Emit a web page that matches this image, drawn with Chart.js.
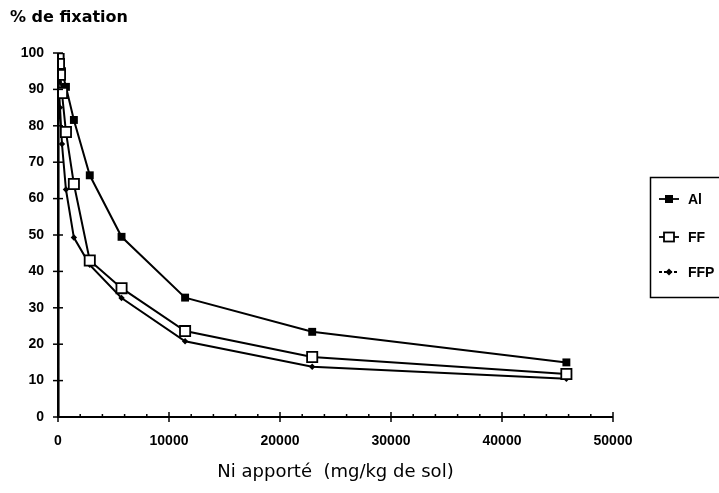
<!DOCTYPE html>
<html>
<head>
<meta charset="utf-8">
<script src="https://cdn.jsdelivr.net/npm/chart.js@4.4.1/dist/chart.umd.min.js"></script>
<style>
  html, body { margin: 0; padding: 0; background: #fff; }
  #wrap { width: 719px; height: 493px; position: relative; }
</style>
</head>
<body>
<div id="wrap"><canvas id="fixChart" width="719" height="493"></canvas></div>
<script>
// Ni apporté (mg/kg de sol)
const niAl  = [22, 45, 89, 179, 358, 716, 1431, 2862, 5725, 11450, 22900, 45800];
const pctAl = [99.7, 99.3, 98.5, 97, 95, 90.7, 81.6, 66.4, 49.5, 32.8, 23.4, 15];

const niFF  = [22, 45, 89, 179, 358, 716, 1431, 2862, 5725, 11450, 22900, 45800];
const pctFF = [99.3, 98.5, 97, 94, 89, 78.3, 64, 43, 35.4, 23.6, 16.5, 11.8];

const niFFP  = [0, 22, 45, 89, 179, 358, 716, 1431, 2862, 5725, 11450, 22900, 45800];
const pctFFP = [0, 98, 96, 92, 85, 75, 62.5, 49.3, 41.8, 32.7, 20.8, 13.8, 10.5];

const xTicks = [0, 10000, 20000, 30000, 40000, 50000];
const yTicks = [0, 10, 20, 30, 40, 50, 60, 70, 80, 90, 100];

const toPoints = (xs, ys) => xs.map((x, i) => ({ x: x, y: ys[i] }));

// Dessin des axes (traits de graduation) + titre Y + légende
const axesPlugin = {
    id: 'axesPlugin',
    afterDraw(chart) {
        const ctx = chart.ctx;
        const xs = chart.scales.x, ys = chart.scales.y;
        const x0 = xs.getPixelForValue(0), y0 = ys.getPixelForValue(0);
        ctx.save();
        ctx.strokeStyle = '#000';
        ctx.lineWidth = 2;
        ctx.beginPath();
        ctx.moveTo(x0, ys.getPixelForValue(100));
        ctx.lineTo(x0, y0);
        ctx.lineTo(xs.getPixelForValue(50000), y0);
        ctx.stroke();
        ctx.lineWidth = 1.5;
        yTicks.forEach(v => {
            const p = ys.getPixelForValue(v);
            ctx.beginPath(); ctx.moveTo(x0 - 5, p); ctx.lineTo(x0 + 5, p); ctx.stroke();
        });
        for (let v = 0; v <= 50000; v += 2000) {
            const p = xs.getPixelForValue(v);
            ctx.beginPath();
            if (v % 10000 === 0) { ctx.moveTo(p, y0 - 5); ctx.lineTo(p, y0 + 5); }
            else { ctx.moveTo(p, y0 - 3); ctx.lineTo(p, y0); }
            ctx.stroke();
        }
        // titre Y
        ctx.fillStyle = '#000';
        ctx.font = '600 16px "DejaVu Sans"';
        ctx.textBaseline = 'middle';
        ctx.textAlign = 'left';
        ctx.fillText('% de fixation', 10, 18);
        // légende
        ctx.lineWidth = 1.5;
        ctx.strokeRect(650.5, 177.5, 80, 120);
        const items = [['Al', 'al'], ['FF', 'ff'], ['FFP', 'ffp']];
        const ly = [199, 237, 272];
        ctx.font = 'bold 14px "Liberation Sans"';
        items.forEach((it, i) => {
            const y = ly[i];
            ctx.lineWidth = 1.8;
            ctx.setLineDash(it[1] === 'ffp' ? [3, 2] : []);
            ctx.beginPath(); ctx.moveTo(659, y); ctx.lineTo(679, y); ctx.stroke();
            ctx.setLineDash([]);
            if (it[1] === 'al') { ctx.fillRect(665, y - 4, 8, 8); }
            else if (it[1] === 'ff') { ctx.fillStyle = '#fff'; ctx.fillRect(664, y - 4.5, 10, 9); ctx.fillStyle = '#000'; ctx.strokeRect(664, y - 4.5, 10, 9); }
            else { ctx.beginPath(); ctx.moveTo(669, y - 3.5); ctx.lineTo(672.5, y); ctx.lineTo(669, y + 3.5); ctx.lineTo(665.5, y); ctx.closePath(); ctx.fill(); }
            ctx.fillText(it[0], 688, y + 1);
        });
        ctx.restore();
    }
};

const ffpRadius = niFFP.map(x => (x === 0 ? 0 : 3.2));

new Chart(document.getElementById('fixChart'), {
    type: 'scatter',
    data: {
        datasets: [
            {
                label: 'Al',
                data: toPoints(niAl, pctAl),
                showLine: true,
                borderColor: '#000',
                borderWidth: 2,
                backgroundColor: '#000',
                pointStyle: 'rect',
                pointRadius: 5.6,
                pointBorderWidth: 0
            },
            {
                label: 'FF',
                data: toPoints(niFF, pctFF),
                showLine: true,
                borderColor: '#000',
                borderWidth: 2,
                backgroundColor: '#fff',
                pointBackgroundColor: '#fff',
                pointStyle: 'rect',
                pointRadius: 7.2,
                pointBorderWidth: 1.8,
                order: -1
            },
            {
                label: 'FFP',
                data: toPoints(niFFP, pctFFP),
                showLine: true,
                borderColor: '#000',
                borderWidth: 2,
                backgroundColor: '#000',
                pointStyle: 'rectRot',
                pointRadius: ffpRadius,
                pointBorderWidth: 0
            }
        ]
    },
    options: {
        responsive: false,
        animation: false,
        layout: { padding: { left: 0, right: 106, top: 53, bottom: 10 } },
        plugins: { legend: { display: false }, tooltip: { enabled: false } },
        elements: { line: { tension: 0 } },
        scales: {
            x: {
                type: 'linear',
                min: 0, max: 50000,
                afterBuildTicks: s => { s.ticks = xTicks.map(v => ({ value: v })); },
                grid: { display: false, drawTicks: false },
                border: { display: false },
                ticks: {
                    color: '#000',
                    padding: 16,
                    maxRotation: 0,
                    callback: v => String(v),
                    font: { family: '"Liberation Sans"', size: 14, weight: 'bold' }
                },
                title: {
                    display: true,
                    text: 'Ni apporté  (mg/kg de sol)',
                    color: '#000',
                    padding: { top: 9, bottom: 0 },
                    font: { family: '"DejaVu Sans"', size: 18 }
                },
                afterFit: s => { s.height = 66; }
            },
            y: {
                type: 'linear',
                min: 0, max: 100,
                afterBuildTicks: s => { s.ticks = yTicks.map(v => ({ value: v })); },
                grid: { display: false, drawTicks: false },
                border: { display: false },
                ticks: {
                    color: '#000',
                    padding: 14,
                    callback: v => String(v),
                    font: { family: '"Liberation Sans"', size: 14, weight: 'bold' }
                },
                afterFit: s => { s.width = 58; }
            }
        }
    },
    plugins: [axesPlugin]
});
</script>
</body>
</html>
